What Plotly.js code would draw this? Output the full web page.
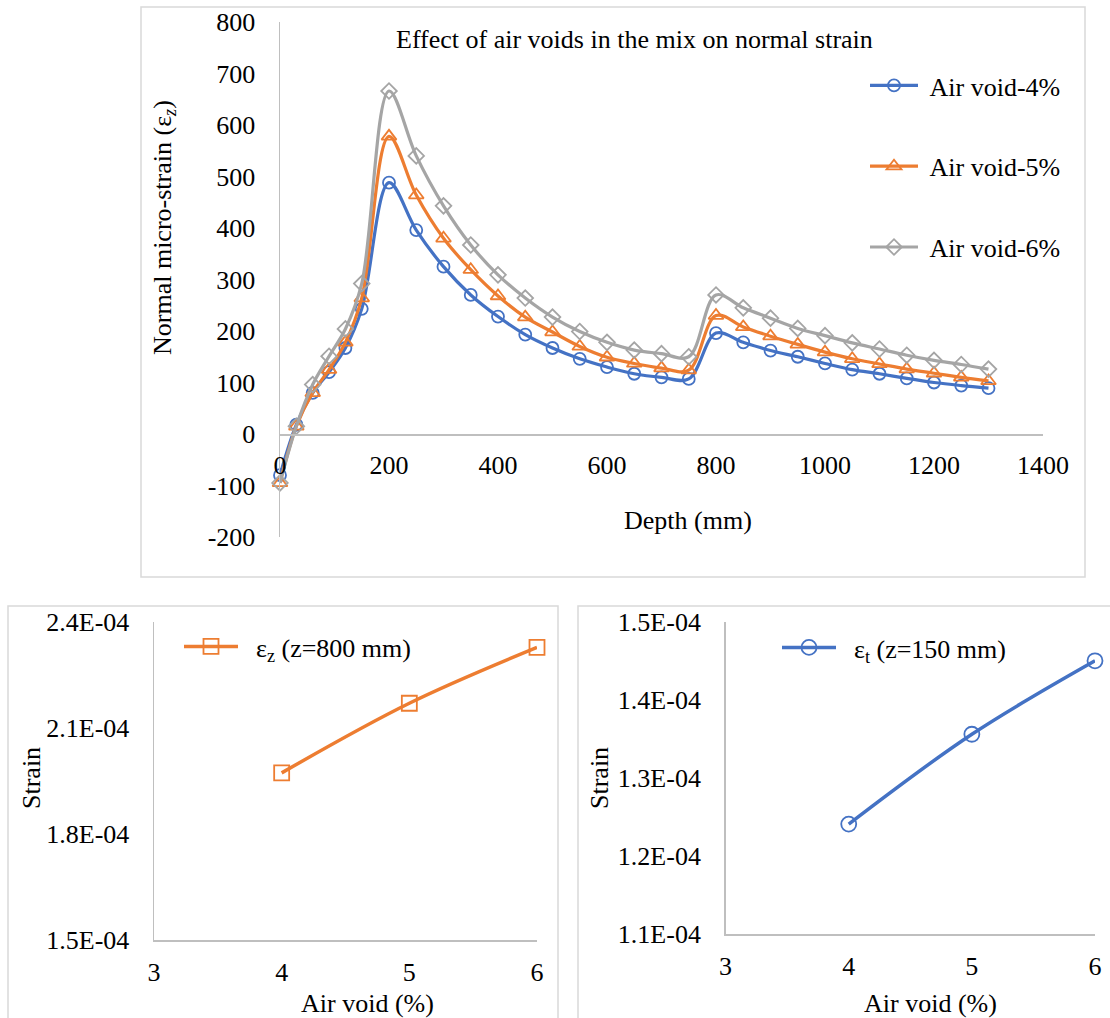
<!DOCTYPE html>
<html>
<head>
<meta charset="utf-8">
<script src="https://cdn.plot.ly/plotly-3.0.1.min.js"></script>
<style>
  html, body { margin: 0; padding: 0; background: #fff; }
  #chart { width: 1110px; height: 1018px; }
</style>
</head>
<body>
<div id="chart"></div>
<script>
// ---- Data ----
const depth = [0, 30, 60, 90, 120, 150, 200, 250, 300, 350, 400, 450, 500, 550, 600, 650, 700, 750, 800, 850, 900, 950, 1000, 1050, 1100, 1150, 1200, 1250, 1300];
const airVoid4 = [-80, 18, 80, 120, 167, 243, 488, 396, 325, 270, 228, 193, 167, 146, 130, 117, 110, 107, 196, 178, 162, 150, 137, 125, 117, 108, 100, 94, 89];
const airVoid5 = [-95, 15, 80, 125, 178, 264, 578, 464, 380, 319, 268, 227, 198, 170, 149, 137, 128, 124, 230, 208, 190, 174, 159, 146, 136, 126, 118, 110, 103];
const airVoid6 = [-95, 15, 96, 151, 204, 292, 666, 540, 443, 367, 309, 264, 227, 199, 178, 163, 156, 150, 270, 245, 225, 205, 191, 177, 165, 153, 143, 135, 126];

const airVoidPct = [4, 5, 6];
const strainZ800 = [1.973e-4, 2.170e-4, 2.328e-4];
const strainT150 = [1.241e-4, 1.356e-4, 1.450e-4];

const seriesNames = ["Air void-4%", "Air void-5%", "Air void-6%"];
const ticksTopY = [-200, -100, 0, 100, 200, 300, 400, 500, 600, 700, 800];
const ticksTopYText = ["-200", "-100", "0", "100", "200", "300", "400", "500", "600", "700", "800"];
const ticksTopX = [0, 200, 400, 600, 800, 1000, 1200, 1400];
const ticksLeftY = [1.5e-4, 1.8e-4, 2.1e-4, 2.4e-4];
const ticksLeftYText = ["1.5E-04", "1.8E-04", "2.1E-04", "2.4E-04"];
const ticksRightY = [1.1e-4, 1.2e-4, 1.3e-4, 1.4e-4, 1.5e-4];
const ticksRightYText = ["1.1E-04", "1.2E-04", "1.3E-04", "1.4E-04", "1.5E-04"];
const ticksX = [3, 4, 5, 6];

// ---- Styling ----
const W = 1110, H = 1018;
const px = v => v / W;
const py = v => 1 - v / H;
const FONT = "Liberation Serif";
const FS = 26;
const BLUE = "#4472C4", ORANGE = "#ED7D31", GRAY = "#A5A5A5";
const AXC = "#BFBFBF";
const NB = "\u00a0";
const f = () => ({ family: FONT, size: FS, color: "#000" });

const traces = [
  {
    x: depth, y: airVoid4, name: NB + seriesNames[0], type: "scatter", mode: "lines+markers",
    line: { color: BLUE, width: 3.2, shape: "spline", smoothing: 1 },
    marker: { symbol: "circle-open", size: 12, color: BLUE, line: { width: 1.8, color: BLUE } },
    xaxis: "x", yaxis: "y", legend: "legend", legendgroup: "a", cliponaxis: false
  },
  {
    x: depth, y: airVoid5, name: NB + seriesNames[1], type: "scatter", mode: "lines+markers",
    line: { color: ORANGE, width: 3.2, shape: "spline", smoothing: 1 },
    marker: { symbol: "triangle-up-open", size: 13, color: ORANGE, line: { width: 1.8, color: ORANGE } },
    xaxis: "x", yaxis: "y", legend: "legend", legendgroup: "b", cliponaxis: false
  },
  {
    x: depth, y: airVoid6, name: NB + seriesNames[2], type: "scatter", mode: "lines+markers",
    line: { color: GRAY, width: 3.2, shape: "spline", smoothing: 1 },
    marker: { symbol: "diamond-open", size: 12, color: GRAY, line: { width: 1.8, color: GRAY } },
    xaxis: "x", yaxis: "y", legend: "legend", legendgroup: "c", cliponaxis: false
  },
  {
    x: airVoidPct, y: strainZ800, name: NB + NB + "ε<sub>z</sub> (z=800 mm)", type: "scatter", mode: "lines+markers",
    line: { color: ORANGE, width: 3.5, shape: "spline", smoothing: 1 },
    marker: { symbol: "square-open", size: 15, color: ORANGE, line: { width: 1.8, color: ORANGE } },
    xaxis: "x2", yaxis: "y2", legend: "legend2", cliponaxis: false
  },
  {
    x: airVoidPct, y: strainT150, name: NB + NB + "ε<sub>t</sub> (z=150 mm)", type: "scatter", mode: "lines+markers",
    line: { color: BLUE, width: 3.5, shape: "spline", smoothing: 1 },
    marker: { symbol: "circle-open", size: 15, color: BLUE, line: { width: 1.8, color: BLUE } },
    xaxis: "x3", yaxis: "y3", legend: "legend3", cliponaxis: false
  }
];

function axis(extra) {
  return Object.assign({
    showgrid: false, zeroline: false, showline: true, linecolor: AXC, linewidth: 1.5,
    ticks: "outside", tickcolor: "rgba(0,0,0,0)", tickfont: f(), fixedrange: true
  }, extra);
}

const layout = {
  width: W, height: H,
  margin: { l: 0, r: 0, t: 0, b: 0 },
  paper_bgcolor: "#fff", plot_bgcolor: "rgba(0,0,0,0)",
  font: f(),
  xaxis: axis({
    domain: [px(280), px(1043)], range: [0, 1400], tickvals: ticksTopX,
    anchor: "free", position: py(434), ticklen: 7
  }),
  yaxis: axis({
    domain: [py(537), py(22)], range: [-200, 800], tickvals: ticksTopY, ticktext: ticksTopYText,
    anchor: "x", ticklen: 18
  }),
  xaxis2: axis({
    domain: [px(154), px(537)], range: [3, 6], tickvals: ticksX, anchor: "y2", ticklen: 8
  }),
  yaxis2: axis({
    domain: [py(940), py(622)], range: [1.5e-4, 2.4e-4], tickvals: ticksLeftY, ticktext: ticksLeftYText,
    anchor: "x2", ticklen: 18
  }),
  xaxis3: axis({
    domain: [px(725.6), px(1095)], range: [3, 6], tickvals: ticksX, anchor: "y3", ticklen: 8
  }),
  yaxis3: axis({
    domain: [py(934.3), py(621.7)], range: [1.1e-4, 1.5e-4], tickvals: ticksRightY, ticktext: ticksRightYText,
    anchor: "x3", ticklen: 18
  }),
  showlegend: true,
  legend: {
    x: px(865), y: py(62), xanchor: "left", yanchor: "top", bgcolor: "rgba(0,0,0,0)",
    font: f(), tracegroupgap: 44, itemwidth: 48, traceorder: "grouped"
  },
  legend2: {
    x: px(179), y: py(623), xanchor: "left", yanchor: "top", bgcolor: "rgba(0,0,0,0)",
    font: f(), itemwidth: 54
  },
  legend3: {
    x: px(777), y: py(624), xanchor: "left", yanchor: "top", bgcolor: "rgba(0,0,0,0)",
    font: f(), itemwidth: 54
  },
  shapes: [
    { type: "rect", xref: "paper", yref: "paper", x0: px(141), x1: px(1085), y0: py(577), y1: py(7),
      line: { color: "#D9D9D9", width: 1.5 }, fillcolor: "rgba(0,0,0,0)", layer: "below" },
    { type: "rect", xref: "paper", yref: "paper", x0: px(8), x1: px(558), y0: py(1030), y1: py(606),
      line: { color: "#D9D9D9", width: 1.5 }, fillcolor: "rgba(0,0,0,0)", layer: "below" },
    { type: "rect", xref: "paper", yref: "paper", x0: px(578), x1: px(1125), y0: py(1030), y1: py(606),
      line: { color: "#D9D9D9", width: 1.5 }, fillcolor: "rgba(0,0,0,0)", layer: "below" }
  ],
  annotations: [
    { text: "Effect of air voids in the mix on normal strain", xref: "paper", yref: "paper",
      x: px(634), y: py(40), showarrow: false, xanchor: "center", yanchor: "middle", font: f() },
    { text: "Depth (mm)", xref: "paper", yref: "paper",
      x: px(688), y: py(520), showarrow: false, xanchor: "center", yanchor: "middle", font: f() },
    { text: "Normal micro-strain (ε<sub><i>z</i></sub>)", xref: "paper", yref: "paper",
      x: px(164), y: py(228), showarrow: false, textangle: -90, xanchor: "center", yanchor: "middle", font: f() },
    { text: "Strain", xref: "paper", yref: "paper",
      x: px(31), y: py(778), showarrow: false, textangle: -90, xanchor: "center", yanchor: "middle", font: f() },
    { text: "Air void (%)", xref: "paper", yref: "paper",
      x: px(367), y: py(1003), showarrow: false, xanchor: "center", yanchor: "middle", font: f() },
    { text: "Strain", xref: "paper", yref: "paper",
      x: px(599), y: py(778), showarrow: false, textangle: -90, xanchor: "center", yanchor: "middle", font: f() },
    { text: "Air void (%)", xref: "paper", yref: "paper",
      x: px(930), y: py(1003), showarrow: false, xanchor: "center", yanchor: "middle", font: f() }
  ]
};

Plotly.newPlot("chart", traces, layout, { displayModeBar: false, staticPlot: true });
</script>
</body>
</html>
